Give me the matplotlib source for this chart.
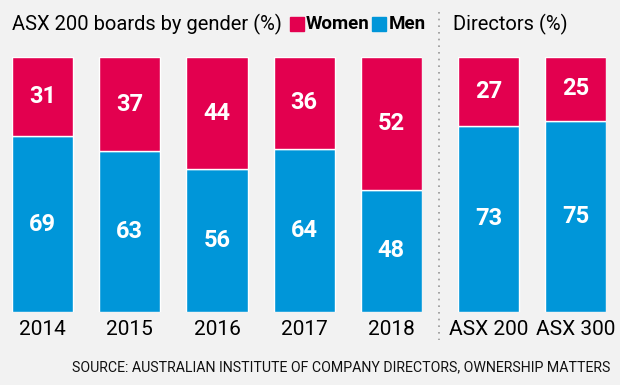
import matplotlib.pyplot as plt

years = ["2014", "2015", "2016", "2017", "2018"]
women = [31, 37, 44, 36, 52]
men = [69, 63, 56, 64, 48]

dir_labels = ["ASX 200", "ASX 300"]
dir_women = [27, 25]
dir_men = [73, 75]

RED = "#e3004f"
BLUE = "#0096d9"
BG = "#f2f2f2"
W, H = 620, 385

plt.rcParams['font.family'] = ['Roboto', 'DejaVu Sans']

fig = plt.figure(figsize=(6.2, 3.85), dpi=100)
fig.patch.set_facecolor(BG)


def px_axes(x0, x1, y0, y1):
    return fig.add_axes([x0 / W, 1 - y1 / H, (x1 - x0) / W, (y1 - y0) / H])


def draw(ax, labels, w, m, width):
    pos = range(len(labels))
    ax.bar(pos, m, width=width, color=BLUE, edgecolor="white", linewidth=1)
    ax.bar(pos, w, bottom=m, width=width, color=RED, edgecolor="white", linewidth=1)
    for i in pos:
        ax.text(i, m[i] / 2, str(m[i]), ha="center", va="center",
                color="white", fontsize=17, fontweight="bold")
        ax.text(i, m[i] + w[i] / 2, str(w[i]), ha="center", va="center",
                color="white", fontsize=17, fontweight="bold")
    ax.set_xlim(-0.35, len(labels) - 0.65)
    ax.set_ylim(0, 100)
    ax.set_xticks(list(pos))
    ax.set_xticklabels(labels, fontsize=15)
    ax.tick_params(axis="x", length=0, pad=6)
    ax.set_yticks([])
    ax.set_facecolor("none")
    for s in ax.spines.values():
        s.set_visible(False)


ax1 = px_axes(12, 422, 57, 312)
draw(ax1, years, women, men, 0.70)
ax2 = px_axes(458, 606, 57, 312)
draw(ax2, dir_labels, dir_women, dir_men, 0.705)

# titles and legend
fig.text(12 / W, 1 - 24 / H, "ASX 200 boards by gender (%)", fontsize=14.5,
         va="center", ha="left")
fig.patches.append(plt.Rectangle((290 / W, 1 - 31 / H), 14 / W, 14 / H,
                                 transform=fig.transFigure, color=RED))
fig.text(306 / W, 1 - 24 / H, "Women", fontsize=13.5, fontweight="bold",
         va="center", ha="left")
fig.patches.append(plt.Rectangle((372 / W, 1 - 31 / H), 14 / W, 14 / H,
                                 transform=fig.transFigure, color=BLUE))
fig.text(389 / W, 1 - 24 / H, "Men", fontsize=13.5, fontweight="bold",
         va="center", ha="left")
fig.text(453 / W, 1 - 24 / H, "Directors (%)", fontsize=14.5,
         va="center", ha="left")

# dotted separator
fig.add_artist(plt.Line2D([439 / W, 439 / W], [1 - 12 / H, 1 - 340 / H],
                          transform=fig.transFigure, color="#999999",
                          linestyle=(0, (1, 3)), linewidth=1.2))

fig.text(610 / W, 1 - 367 / H,
         "SOURCE: AUSTRALIAN INSTITUTE OF COMPANY DIRECTORS, OWNERSHIP MATTERS",
         fontsize=10.2, ha="right", va="center", color="#111111")

fig.savefig("out.png", dpi=100, facecolor=BG)
